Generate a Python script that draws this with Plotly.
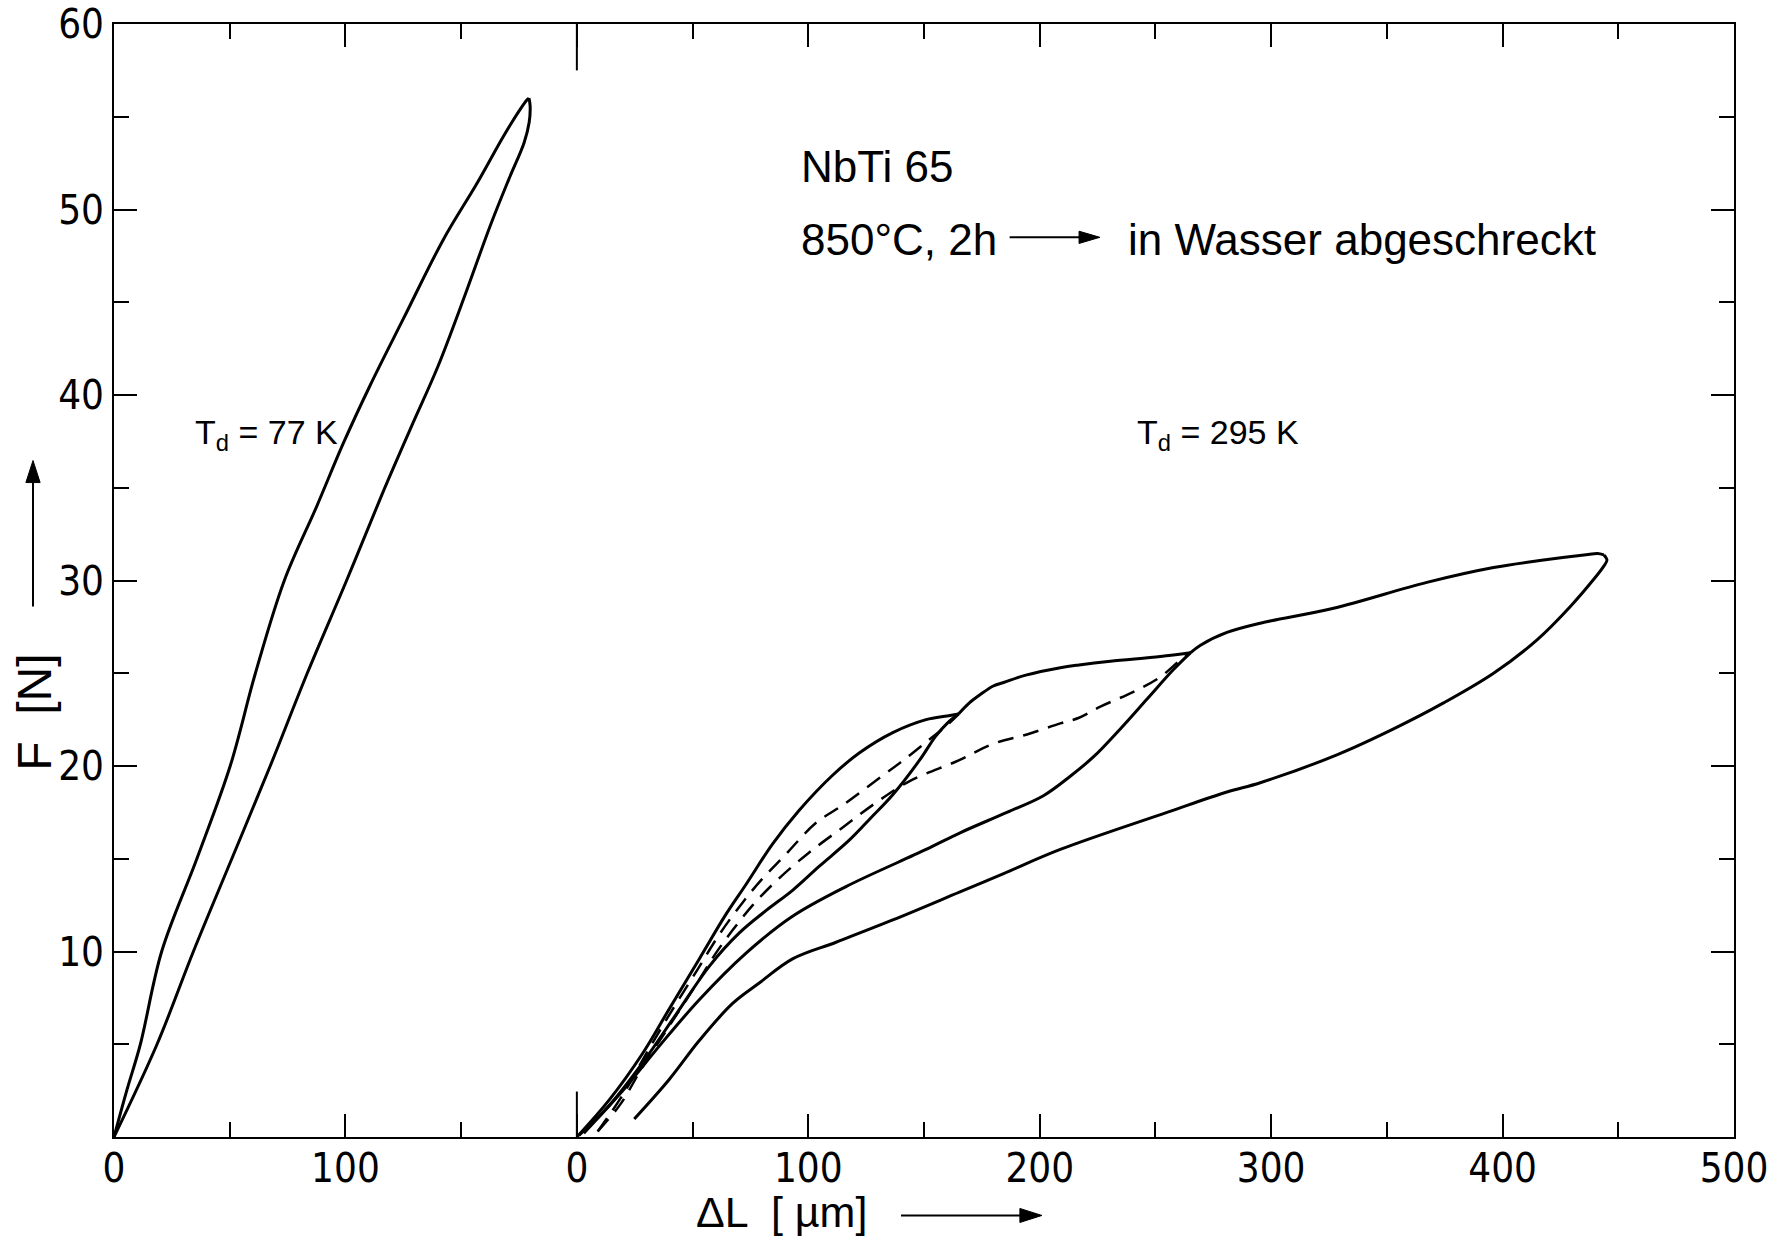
import plotly.graph_objects as go

# ---------------- data ----------------
# T_d = 77 K loop: ΔL in µm measured from its own zero, F in N
k77_load_dl = [0, 5.5, 11.4, 20.6, 35.8, 50.2, 61.1, 73.6, 87.6, 99.1, 110.6, 125.0, 142.4, 156.8, 168.3, 175.0, 178.4, 179.3]
k77_load_f = [0, 2.5, 5.0, 10.0, 15.0, 20.0, 25.0, 30.0, 34.0, 37.4, 40.5, 44.1, 48.4, 51.4, 53.95, 55.3, 55.9, 56.0]
k77_unload_dl = [179.3, 179.8, 179.4, 177.2, 170.5, 162.5, 152.0, 140.0, 128.5, 116.0, 100.5, 83.5, 67.5, 50.9, 34.3, 18.6, 0]
k77_unload_f = [56.0, 55.6, 54.7, 53.6, 51.6, 49.1, 45.5, 41.55, 38.3, 34.7, 30.0, 25.0, 20.0, 15.0, 10.0, 5.0, 0]

# T_d = 295 K cycles: ΔL in µm, F in N
k295_load1_dl = [0, 14.0, 28.4, 39.9, 52.9, 64.4, 73.0, 84.6, 96.0, 110.5, 122.0, 136.5, 150.9, 160.0, 164.9]
k295_load1_f = [0, 2.0, 4.5, 6.9, 9.6, 12.0, 13.6, 15.8, 17.6, 19.5, 20.7, 21.8, 22.5, 22.7, 22.8]
k295_unload1_dl = [164.9, 160.0, 155.0, 148.0, 136.5, 127.0, 117.7, 104.8, 93.2, 81.7, 70.2, 57.2, 42.8, 28.4, 14.0, 1.0]
k295_unload1_f = [22.8, 22.3, 21.6, 20.3, 18.45, 17.2, 16.0, 14.6, 13.3, 12.2, 11.0, 9.2, 6.6, 4.0, 1.7, 0.1]
k295_reload1_dl = [9, 20, 30, 40, 52, 62, 72, 80, 90, 103, 115, 128, 141, 152, 160, 164.9]
k295_reload1_f = [0.3, 2.3, 4.5, 6.6, 9.0, 11.0, 12.7, 13.9, 15.2, 16.9, 17.9, 19.1, 20.3, 21.4, 22.2, 22.8]
k295_load2_dl = [164.9, 169.6, 174.3, 179.7, 184.4, 194.0, 208.9, 217.0, 230.5, 252.1, 265.1]
k295_load2_f = [22.8, 23.4, 23.85, 24.3, 24.5, 24.9, 25.3, 25.45, 25.65, 25.9, 26.1]
k295_unload2_dl = [265.1, 257.8, 246.3, 234.8, 223.3, 213.2, 201.6, 185.8, 165.6, 150.9, 116.3, 93.2, 73.0, 52.9, 35.6, 21.2, 8.2, 3.0]
k295_unload2_f = [26.1, 25.2, 23.6, 22.0, 20.5, 19.45, 18.4, 17.5, 16.4, 15.5, 13.5, 11.9, 9.9, 7.4, 4.9, 2.7, 0.9, 0.2]
k295_reload2_dl = [9, 19, 28, 40, 53, 60, 67, 76, 87, 100, 115, 129, 144, 165, 180, 194.5, 208.9, 217, 226.2, 240.5, 252.1, 260.7, 265.1]
k295_reload2_f = [0.3, 1.8, 3.7, 6.0, 8.5, 9.9, 11.1, 12.5, 13.9, 15.3, 16.7, 18.0, 19.2, 20.3, 21.2, 21.7, 22.3, 22.6, 23.2, 24.0, 24.8, 25.7, 26.1]
k295_load3_dl = [265.1, 269.3, 280.9, 295.3, 327.0, 367.3, 396.1, 417.7, 437.0, 441.0, 443.8]
k295_load3_f = [26.1, 26.5, 27.2, 27.7, 28.5, 29.9, 30.7, 31.1, 31.4, 31.45, 31.38]
k295_unload3_dl = [443.8, 445.1, 443.6, 439.3, 429.3, 414.9, 396.1, 374.5, 352.9, 328.4, 295.3, 280.9, 255.0, 208.9, 184.4, 165.3, 136.5, 112.0, 93.2, 78.8, 67.3, 52.9, 39.9, 24.8]
k295_unload3_f = [31.38, 31.1, 30.75, 30.05, 28.6, 26.8, 25.0, 23.4, 22.0, 20.6, 19.1, 18.6, 17.5, 15.5, 14.2, 13.2, 11.7, 10.5, 9.6, 8.3, 7.2, 5.2, 3.1, 0.97]

# axis ticks: the 77 K zero sits 200 µm left of the 295 K zero on the shared axis
ZERO_77K = -200
x_tick_vals = [-200, -100, 0, 100, 200, 300, 400, 500]
x_tick_text = ["0", "100", "0", "100", "200", "300", "400", "500"]
x_minor_vals = [-150, -50, 50, 150, 250, 350, 450]
y_tick_vals = [10, 20, 30, 40, 50, 60]
y_tick_text = ["10", "20", "30", "40", "50", "60"]
y_minor_vals = [5, 15, 25, 35, 45, 55]

TICK_FONT = "Liberation Sans Narrow, Arial Narrow, DejaVu Sans Condensed, Liberation Sans, sans-serif"
TEXT_FONT = "Liberation Sans, Arial, sans-serif"

fig = go.Figure()


def add_curve(x, y, dash=None, width=3):
    fig.add_trace(go.Scatter(
        x=x, y=y, mode="lines", showlegend=False, hoverinfo="skip",
        line=dict(color="black", width=width, dash=dash, shape="spline", smoothing=1.0),
    ))


add_curve([v + ZERO_77K for v in k77_load_dl], k77_load_f)
add_curve([v + ZERO_77K for v in k77_unload_dl], k77_unload_f)

add_curve(k295_load1_dl, k295_load1_f)
add_curve(k295_unload1_dl, k295_unload1_f)
add_curve(k295_reload1_dl, k295_reload1_f, dash="16px,10px", width=2.5)
add_curve(k295_load2_dl, k295_load2_f)
add_curve(k295_unload2_dl, k295_unload2_f)
add_curve(k295_reload2_dl, k295_reload2_f, dash="16px,10px", width=2.5)
add_curve(k295_load3_dl, k295_load3_f)
add_curve(k295_unload3_dl, k295_unload3_f)

axis_common = dict(
    showgrid=False, zeroline=False, showline=True, linecolor="black", linewidth=2,
    mirror="ticks", ticks="inside", ticklen=23, tickwidth=2, tickcolor="black",
    automargin=False,
    tickfont=dict(family=TICK_FONT, size=40, color="black"),
)

fig.update_layout(
    width=1783, height=1240, autosize=False,
    margin=dict(l=114, r=49, t=24, b=103),
    paper_bgcolor="white", plot_bgcolor="white",
    xaxis=dict(
        range=[-200, 500], tickmode="array", tickvals=x_tick_vals, ticktext=x_tick_text,
        ticklabelstandoff=-5,
        minor=dict(tickmode="array", tickvals=x_minor_vals, ticks="inside", ticklen=15,
                   tickwidth=2, tickcolor="black", showgrid=False),
        **axis_common,
    ),
    yaxis=dict(
        range=[0, 60], tickmode="array", tickvals=y_tick_vals, ticktext=y_tick_text,
        minor=dict(tickmode="array", tickvals=y_minor_vals, ticks="inside", ticklen=15,
                   tickwidth=2, tickcolor="black", showgrid=False),
        **axis_common,
    ),
)

line_style = dict(color="black", width=2)
# long separator ticks at the 295 K zero (top and bottom)
fig.add_shape(type="line", xref="x", yref="y", x0=0, x1=0, y0=0, y1=2.45, line=line_style)
fig.add_shape(type="line", xref="x", yref="y", x0=0, x1=0, y0=57.5, y1=60, line=line_style)

# arrow "850°C, 2h ——► in Wasser abgeschreckt" (data coordinates)
fig.add_shape(type="line", xref="x", yref="y", x0=187, x1=218, y0=48.5, y1=48.5, line=line_style)
fig.add_shape(type="path", xref="x", yref="y", path="M 226,48.5 L 217,48.83 L 217,48.17 Z",
              fillcolor="black", line=dict(color="black", width=1))

# arrow next to the x-axis title (paper coordinates)
fig.add_shape(type="line", xref="paper", yref="paper", x0=0.4858, x1=0.560, y0=-0.0705, y1=-0.0705,
              line=line_style)
fig.add_shape(type="path", xref="paper", yref="paper",
              path="M 0.5728,-0.0705 L 0.5592,-0.0642 L 0.5592,-0.0768 Z",
              fillcolor="black", line=dict(color="black", width=1))

# arrow next to the y-axis title (paper coordinates)
fig.add_shape(type="line", xref="paper", yref="paper", x0=-0.05, x1=-0.05, y0=0.4766, y1=0.589,
              line=line_style)
fig.add_shape(type="path", xref="paper", yref="paper",
              path="M -0.05,0.6078 L -0.0544,0.5880 L -0.0456,0.5880 Z",
              fillcolor="black", line=dict(color="black", width=1))

text_font = dict(family=TEXT_FONT, size=44, color="black")
small_font = dict(family=TEXT_FONT, size=34, color="black")

fig.add_annotation(x=96, y=52.3, xref="x", yref="y", text="NbTi 65", showarrow=False,
                   xanchor="left", yanchor="middle", font=text_font)
fig.add_annotation(x=96, y=48.4, xref="x", yref="y", text="850°C, 2h", showarrow=False,
                   xanchor="left", yanchor="middle", font=text_font)
fig.add_annotation(x=237.4, y=48.4, xref="x", yref="y", text="in Wasser abgeschreckt",
                   showarrow=False, xanchor="left", yanchor="middle", font=text_font)
fig.add_annotation(x=-166, y=37.85, xref="x", yref="y", text="T<sub>d</sub> = 77 K",
                   showarrow=False, xanchor="left", yanchor="middle", font=small_font)
fig.add_annotation(x=241.0, y=37.85, xref="x", yref="y", text="T<sub>d</sub> = 295 K",
                   showarrow=False, xanchor="left", yanchor="middle", font=small_font)

# axis titles
fig.add_annotation(x=0.358, y=-0.0905, xref="paper", yref="paper", text="ΔL  [ µm]",
                   showarrow=False, xanchor="left", yanchor="bottom",
                   font=dict(family=TEXT_FONT, size=43, color="black"))
fig.add_annotation(x=-0.0488, y=0.382, xref="paper", yref="paper", text="F  [N]",
                   textangle=-90, showarrow=False, xanchor="center", yanchor="middle",
                   font=dict(family=TEXT_FONT, size=48, color="black"))

fig.write_html("out.html")
